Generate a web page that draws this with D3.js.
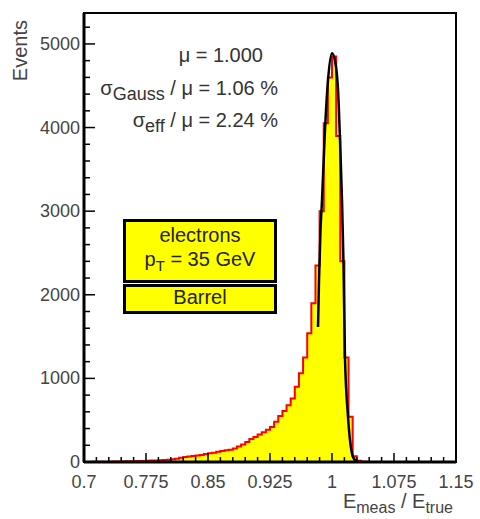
<!DOCTYPE html>
<html>
<head>
<meta charset="utf-8">
<script src="https://cdn.jsdelivr.net/npm/d3@7"></script>
<style>
  body { margin: 0; background: #fff; }
  text { font-family: "Liberation Sans", Arial, sans-serif; }
</style>
</head>
<body>
<svg id="chart" width="480" height="519"></svg>
<script>
// histogram: 90 bins of width 0.005 from 0.7 to 1.15
const binStart = 0.7;
const binWidth = 0.005;
const counts = [
  0, 1, 2, 2, 3, 3, 4, 5, 6, 7,
  8, 9, 10, 12, 13, 15, 17, 19, 22, 25,
  28, 32, 40, 50, 60, 65, 72, 78, 85, 95,
  105, 112, 122, 132, 140, 148, 160, 185, 210, 240,
  275, 300, 330, 355, 385, 420, 480, 550, 610, 680,
  760, 900, 1060, 1250, 1540, 1900, 2350, 3000, 4050, 4600,
  4850, 3900, 2400, 1250, 540, 70, 15, 5, 2, 0,
  0, 0, 0, 0, 0, 0, 0, 0, 0, 0,
  0, 0, 0, 0, 0, 0, 0, 0, 0, 0
];

// gaussian fit curve
const fitX = [0.9831, 0.9843, 0.9861, 0.9879, 0.9915, 0.9952, 1.000, 1.0036, 1.0073, 1.0097, 1.0121, 1.0139, 1.0157, 1.0194, 1.0254, 1.0302];
const fitY = [1615, 2180, 2775, 3130, 3970, 4570, 4890, 4800, 4450, 3850, 3130, 2380, 1250, 540, 60, 0];

const xTicks = [0.7, 0.775, 0.85, 0.925, 1, 1.075, 1.15];
const xTickLabels = ["0.7", "0.775", "0.85", "0.925", "1", "1.075", "1.15"];
const yTicks = [0, 1000, 2000, 3000, 4000, 5000];

const svg = d3.select('#chart');
const mLeft = 84, mRight = 456, mTop = 13, mBottom = 462;

const x = d3.scaleLinear().domain([0.7, 1.15]).range([mLeft, mRight]);
const y = d3.scaleLinear().domain([0, 5370]).range([mBottom, mTop]);

const bins = counts.map((c, i) => ({x0: binStart + i * binWidth, v: c}));
bins.push({x0: binStart + counts.length * binWidth, v: counts[counts.length - 1]});

// fill
svg.append('path')
    .datum(bins)
    .attr('fill', '#ffff00')
    .attr('d', d3.area().curve(d3.curveStepAfter)
        .x(d => x(d.x0)).y0(y(0)).y1(d => y(d.v)));

// outline
svg.append('path')
    .datum(bins)
    .attr('fill', 'none')
    .attr('stroke', '#ff0000')
    .attr('stroke-width', 2)
    .attr('d', d3.line().curve(d3.curveStepAfter)
        .x(d => x(d.x0)).y(d => y(d.v)));

// fit
svg.append('path')
    .datum(d3.zip(fitX, fitY))
    .attr('fill', 'none')
    .attr('stroke', '#000')
    .attr('stroke-width', 2.5)
    .attr('d', d3.line().curve(d3.curveMonotoneX)
        .x(d => x(d[0])).y(d => y(d[1])));

// frame
svg.append('rect')
    .attr('x', mLeft).attr('y', mTop)
    .attr('width', mRight - mLeft).attr('height', mBottom - mTop)
    .attr('fill', 'none').attr('stroke', '#000').attr('stroke-width', 2);

// x axis ticks (inside, pointing up)
const gx = svg.append('g').attr('transform', `translate(0,${mBottom})`);
gx.selectAll('line')
    .data(d3.range(0, 31))
    .join('line')
    .attr('x1', i => x(0.7 + i * 0.015)).attr('x2', i => x(0.7 + i * 0.015))
    .attr('y1', 0).attr('y2', i => i % 5 === 0 ? -9 : -5)
    .attr('stroke', '#000').attr('stroke-width', 1.5);
gx.append('line').attr('x1', mLeft).attr('x2', mRight).attr('stroke', '#000').attr('stroke-width', 3);
gx.selectAll('text')
    .data(xTicks)
    .join('text')
    .attr('x', d => x(d)).attr('y', 26)
    .attr('text-anchor', 'middle')
    .attr('font-size', 18)
    .attr('fill', '#444')
    .text((d, i) => xTickLabels[i]);

// y axis ticks (inside, pointing right)
const gy = svg.append('g').attr('transform', `translate(${mLeft},0)`);
gy.selectAll('line')
    .data(d3.range(0, 27))
    .join('line')
    .attr('y1', i => y(i * 200)).attr('y2', i => y(i * 200))
    .attr('x1', 0).attr('x2', i => i % 5 === 0 ? 11 : 6)
    .attr('stroke', '#000').attr('stroke-width', 1.5);
gy.append('line').attr('y1', mTop).attr('y2', mBottom).attr('stroke', '#000').attr('stroke-width', 3);
gy.selectAll('text')
    .data(yTicks)
    .join('text')
    .attr('x', -4).attr('y', d => y(d) + 6)
    .attr('text-anchor', 'end')
    .attr('font-size', 18)
    .attr('fill', '#444')
    .text(d => d);

// axis titles
svg.append('text')
    .attr('transform', 'translate(27,20) rotate(-90)')
    .attr('text-anchor', 'end')
    .attr('font-size', 20)
    .attr('fill', '#444')
    .text('Events');

const xt = svg.append('text')
    .attr('x', 453).attr('y', 508)
    .attr('text-anchor', 'end')
    .attr('font-size', 20)
    .attr('fill', '#444');
xt.append('tspan').text('E');
xt.append('tspan').attr('font-size', 16).attr('dy', 5).text('meas');
xt.append('tspan').attr('dy', -5).text(' / E');
xt.append('tspan').attr('font-size', 16).attr('dy', 5).text('true');

// fit results
const stats = svg.append('g').attr('fill', '#333').attr('font-size', 20).attr('text-anchor', 'end');
stats.append('text').attr('x', 263).attr('y', 62).text('\u03bc = 1.000');
const s2 = stats.append('text').attr('x', 278).attr('y', 95);
s2.append('tspan').text('\u03c3');
s2.append('tspan').attr('font-size', 18).attr('dy', 5).text('Gauss');
s2.append('tspan').attr('dy', -5).text('  / \u03bc = 1.06 %');
const s3 = stats.append('text').attr('x', 278).attr('y', 127);
s3.append('tspan').text('\u03c3');
s3.append('tspan').attr('font-size', 18).attr('dy', 5).text('eff');
s3.append('tspan').attr('dy', -5).text('  / \u03bc = 2.24 %');

// label boxes
const boxes = svg.append('g');
boxes.append('rect').attr('x', 124.5).attr('y', 220.5).attr('width', 151).attr('height', 61)
    .attr('fill', '#ffff00').attr('stroke', '#000').attr('stroke-width', 3);
boxes.append('rect').attr('x', 124.5).attr('y', 285.5).attr('width', 151).attr('height', 27)
    .attr('fill', '#ffff00').attr('stroke', '#000').attr('stroke-width', 3);
const lab = boxes.append('g').attr('font-size', 20).attr('fill', '#222').attr('text-anchor', 'middle');
lab.append('text').attr('x', 200).attr('y', 242).text('electrons');
const pt = lab.append('text').attr('x', 200).attr('y', 266);
pt.append('tspan').text('p');
pt.append('tspan').attr('font-size', 15).attr('dy', 5).text('T');
pt.append('tspan').attr('dy', -5).text(' = 35 GeV');
lab.append('text').attr('x', 200).attr('y', 304).text('Barrel');
</script>
</body>
</html>
